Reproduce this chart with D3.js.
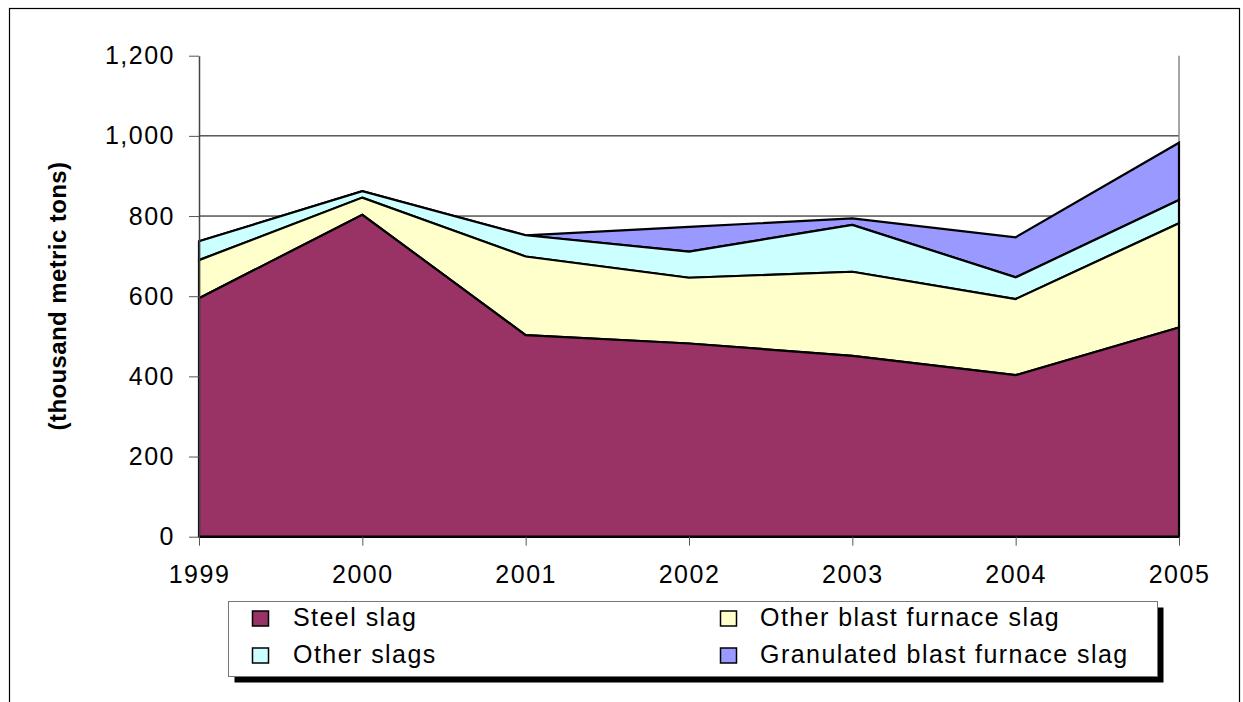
<!DOCTYPE html>
<html>
<head>
<meta charset="utf-8">
<script src="https://cdn.jsdelivr.net/npm/d3@7"></script>
<style>
  html, body { margin: 0; padding: 0; background: #fff; }
  svg { display: block; }
  text { font-family: "Liberation Sans", Arial, sans-serif; }
</style>
</head>
<body>
<svg id="chart" width="1243" height="702"></svg>
<script>
// ---- Data (thousand metric tons) ----
const years = ["1999", "2000", "2001", "2002", "2003", "2004", "2005"];
const steelSlag = [595, 803, 503, 482, 451, 403, 522];
const otherBlastFurnaceSlag = [95, 43, 196, 164, 210, 190, 260];
const otherSlags = [47, 16, 53, 65, 117, 54, 58];
const granulatedBlastFurnaceSlag = [0, 0, 0, 62, 16, 100, 143];

const seriesNames = ["Steel slag", "Other blast furnace slag", "Other slags", "Granulated blast furnace slag"];
const seriesColors = ["#993366", "#FFFFCC", "#CCFFFF", "#9999FF"];
const yTicks = [0, 200, 400, 600, 800, 1000, 1200];
const gridValues = [200, 400, 600, 800, 1000];
const yTitle = "(thousand metric tons)";

// legend arrangement: [row, col] per series
const legendOrder = [[0, 0], [0, 1], [1, 0], [1, 1]];

// ---- Build table ----
const seriesValues = [steelSlag, otherBlastFurnaceSlag, otherSlags, granulatedBlastFurnaceSlag];
const table = years.map((yr, i) => {
  const row = { year: yr };
  seriesNames.forEach((n, k) => { row[n] = seriesValues[k][i]; });
  return row;
});

const svg = d3.select("#chart");

// outer frame
svg.append("rect")
  .attr("x", 9.5).attr("y", 8.5)
  .attr("width", 1230).attr("height", 800)
  .attr("fill", "#fff").attr("stroke", "#000").attr("stroke-width", 1.2);

const x = d3.scalePoint().domain(years).range([199, 1179]);
const y = d3.scaleLinear().domain([0, 1200]).range([536.7, 55.7]);

// gridlines
svg.append("g").selectAll("line").data(gridValues).join("line")
  .attr("x1", 199).attr("x2", 1179)
  .attr("y1", d => y(d)).attr("y2", d => y(d))
  .attr("stroke", "#000").attr("stroke-width", 1);

// right border of plot
svg.append("line")
  .attr("x1", 1179).attr("x2", 1179)
  .attr("y1", y(1200)).attr("y2", y(0))
  .attr("stroke", "#888").attr("stroke-width", 1.5);

// stacked areas
const stack = d3.stack().keys(seriesNames);
const stacked = stack(table);

const area = d3.area()
  .x(d => x(d.data.year))
  .y0(d => y(d[0]))
  .y1(d => y(d[1]));

svg.append("g").selectAll("path").data(stacked.slice().reverse()).join("path")
  .attr("d", area)
  .attr("fill", d => seriesColors[d.index])
  .attr("stroke", "#000")
  .attr("stroke-width", 2.2)
  .attr("stroke-linejoin", "miter");

const tickFont = "25px";

// Y axis
const yAxis = svg.append("g")
  .attr("transform", "translate(199,0)")
  .call(d3.axisLeft(y).tickValues(yTicks).tickSize(10).tickSizeOuter(0).tickPadding(14)
    .tickFormat(d3.format(",")));
yAxis.select(".domain").attr("stroke", "#444").attr("stroke-width", 1.5);
yAxis.selectAll(".tick line").attr("stroke", "#555");
yAxis.selectAll(".tick text")
  .attr("fill", "#000")
  .style("font-size", tickFont)
  .style("letter-spacing", "1.5px")
  .style("font-family", "'Liberation Sans', Arial, sans-serif");

// X axis
const xAxis = svg.append("g")
  .attr("transform", `translate(0,${y(0)})`)
  .call(d3.axisBottom(x).tickSize(9).tickSizeOuter(0).tickPadding(20));
xAxis.select(".domain").attr("stroke", "#000").attr("stroke-width", 1.5);
xAxis.selectAll(".tick line").attr("stroke", "#555");
xAxis.selectAll(".tick text")
  .attr("fill", "#000")
  .style("font-size", tickFont)
  .style("letter-spacing", "1.5px")
  .style("font-family", "'Liberation Sans', Arial, sans-serif");

// Y title
svg.append("text")
  .attr("transform", "translate(66,296) rotate(-90)")
  .attr("text-anchor", "middle")
  .style("font-size", "24px")
  .style("font-weight", "bold")
  .style("letter-spacing", "0.4px")
  .text(yTitle);

// Legend
const lg = svg.append("g");
const box = { x: 228.5, y: 601.5, w: 929, h: 75 };
lg.append("rect")
  .attr("x", box.x + 6).attr("y", box.y + 6)
  .attr("width", box.w).attr("height", box.h)
  .attr("fill", "#000");
lg.append("rect")
  .attr("x", box.x).attr("y", box.y)
  .attr("width", box.w).attr("height", box.h)
  .attr("fill", "#fff").attr("stroke", "#777").attr("stroke-width", 1);

const colSwatchX = [252.5, 720.5];
const colTextX = [293, 760];
const rowSwatchY = [611, 648];
const rowBaseline = [626, 662.5];

const items = lg.selectAll("g.item").data(seriesNames).join("g").attr("class", "item");
items.append("rect")
  .attr("x", (d, i) => colSwatchX[legendOrder[i][1]])
  .attr("y", (d, i) => rowSwatchY[legendOrder[i][0]])
  .attr("width", 16).attr("height", 15)
  .attr("fill", (d, i) => seriesColors[i])
  .attr("stroke", "#000").attr("stroke-width", 1.5);
items.append("text")
  .attr("x", (d, i) => colTextX[legendOrder[i][1]])
  .attr("y", (d, i) => rowBaseline[legendOrder[i][0]])
  .style("font-size", "25px")
  .style("letter-spacing", "1.45px")
  .attr("fill", "#000")
  .text(d => d);
</script>
</body>
</html>
